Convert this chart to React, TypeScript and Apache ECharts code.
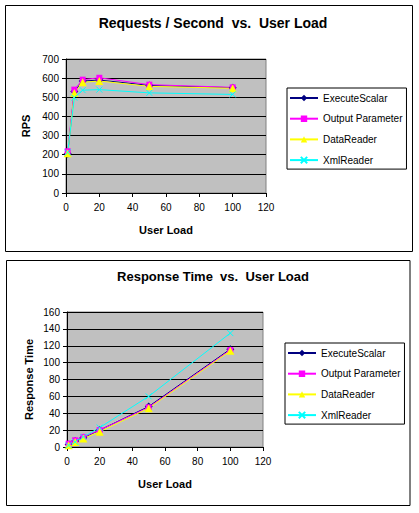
import React, { useEffect, useRef } from "react";
import * as echarts from "echarts";

const userLoad = [1, 5, 10, 20, 50, 100];
const seriesNames = ["ExecuteScalar", "Output Parameter", "DataReader", "XmlReader"];

const rpsExecuteScalar = [205, 530, 585, 590, 562, 550];
const rpsOutputParameter = [218, 540, 592, 602, 566, 552];
const rpsDataReader = [208, 522, 578, 585, 557, 547];
const rpsXmlReader = [212, 498, 537, 540, 523, 515];

const rtExecuteScalar = [3, 7, 11, 20, 48, 116];
const rtOutputParameter = [4, 8, 12, 20, 47, 115];
const rtDataReader = [2, 6, 10, 18, 46, 114];
const rtXmlReader = [2, 6, 12, 23, 60, 135];

const FONT = "'Liberation Sans', Arial, sans-serif";

const styles = [
  { color: "#000080", symbol: "diamond", size: 8 },
  { color: "#ff00ff", symbol: "rect", size: 6 },
  { color: "#ffff00", symbol: "triangle", size: 8 },
  { color: "#00ffff", symbol: "path://M0,0L10,10M10,0L0,10", size: 6 },
];

export default function App() {
  const ref = useRef<HTMLDivElement>(null);
  useEffect(() => {
    if (!ref.current) return;
    const chart = echarts.init(ref.current, null, { renderer: "svg" });
    const mk = (vals: number[][], idx: number) =>
      vals.map((v, i) => ({
        name: seriesNames[i],
        type: "line",
        xAxisIndex: idx,
        yAxisIndex: idx,
        data: userLoad.map((x, j) => [x, v[j]]),
        symbol: styles[i].symbol,
        symbolSize: styles[i].size,
        lineStyle: { color: styles[i].color, width: 1 },
        itemStyle: { color: styles[i].color, borderColor: styles[i].color, borderWidth: i === 3 ? 1 : 0 },
        emphasis: { disabled: true },
      }));
    const xAx = (idx: number) => ({
      gridIndex: idx,
      type: "value",
      min: 0,
      max: 120,
      interval: 20,
      name: "User Load",
      nameLocation: "middle",
      nameGap: 31,
      nameTextStyle: { fontFamily: FONT, fontSize: 11, fontWeight: "bold", color: "#000" },
      axisLine: { show: true, onZero: false, lineStyle: { color: "#000", width: 1 } },
      axisTick: { show: true, length: 4, lineStyle: { color: "#000" } },
      axisLabel: { fontFamily: FONT, fontSize: 10, color: "#000", margin: 9 },
      splitLine: { show: false },
    });
    const yAx = (idx: number, max: number, interval: number, name: string, gap: number) => ({
      gridIndex: idx,
      type: "value",
      min: 0,
      max,
      interval,
      name,
      nameLocation: "middle",
      nameGap: gap,
      nameTextStyle: { fontFamily: FONT, fontSize: 11, fontWeight: "bold", color: "#000" },
      axisLine: { show: true, lineStyle: { color: "#000", width: 1 } },
      axisTick: { show: true, length: 4, lineStyle: { color: "#000" } },
      axisLabel: { fontFamily: FONT, fontSize: 10, color: "#000", margin: 7 },
      splitLine: { show: true, lineStyle: { color: "#000", width: 1 } },
    });
    const legend = (left: number, top: number) => ({
      left,
      top,
      orient: "vertical",
      data: seriesNames,
      itemWidth: 28,
      itemHeight: 8,
      itemGap: 10.7,
      padding: [5, 4, 4, 2],
      backgroundColor: "#fff",
      borderColor: "#000",
      borderWidth: 1,
      borderRadius: 0,
      selectedMode: false,
      textStyle: { fontFamily: FONT, fontSize: 10, color: "#000" },
    });
    chart.setOption({
      animation: false,
      backgroundColor: "#fff",
      title: [
        {
          text: "Requests / Second  vs.  User Load",
          left: 208,
          top: 11,
          textAlign: "center",
          textStyle: { fontFamily: FONT, fontSize: 14, fontWeight: "bold", color: "#000" },
        },
        {
          text: "Response Time  vs.  User Load",
          left: 208,
          top: 265,
          textAlign: "center",
          textStyle: { fontFamily: FONT, fontSize: 13, fontWeight: "bold", color: "#000" },
        },
      ],
      legend: [legend(287, 88), legend(285, 343)],
      grid: [
        { left: 66, top: 59, width: 200, height: 134, show: true, backgroundColor: "#c0c0c0", borderColor: "#808080", borderWidth: 1 },
        { left: 67, top: 312, width: 196, height: 135, show: true, backgroundColor: "#c0c0c0", borderColor: "#808080", borderWidth: 1 },
      ],
      xAxis: [xAx(0), xAx(1)],
      yAxis: [yAx(0, 700, 100, "RPS", 35), yAx(1, 160, 20, "Response Time", 33)],
      series: [
        ...mk([rpsExecuteScalar, rpsOutputParameter, rpsDataReader, rpsXmlReader], 0),
        ...mk([rtExecuteScalar, rtOutputParameter, rtDataReader, rtXmlReader], 1),
      ],
      graphic: [
        { type: "rect", shape: { x: 5.5, y: 5.5, width: 407, height: 246 }, style: { fill: "none", stroke: "#000", lineWidth: 1 }, z: 100 },
        { type: "rect", shape: { x: 6.5, y: 260.5, width: 403.5, height: 245 }, style: { fill: "none", stroke: "#000", lineWidth: 1 }, z: 100 },
      ],
    });
    return () => chart.dispose();
  }, []);
  return (
    <div
      ref={ref}
      style={{ position: "absolute", left: 0, top: 0, width: 419, height: 513 }}
    />
  );
}
